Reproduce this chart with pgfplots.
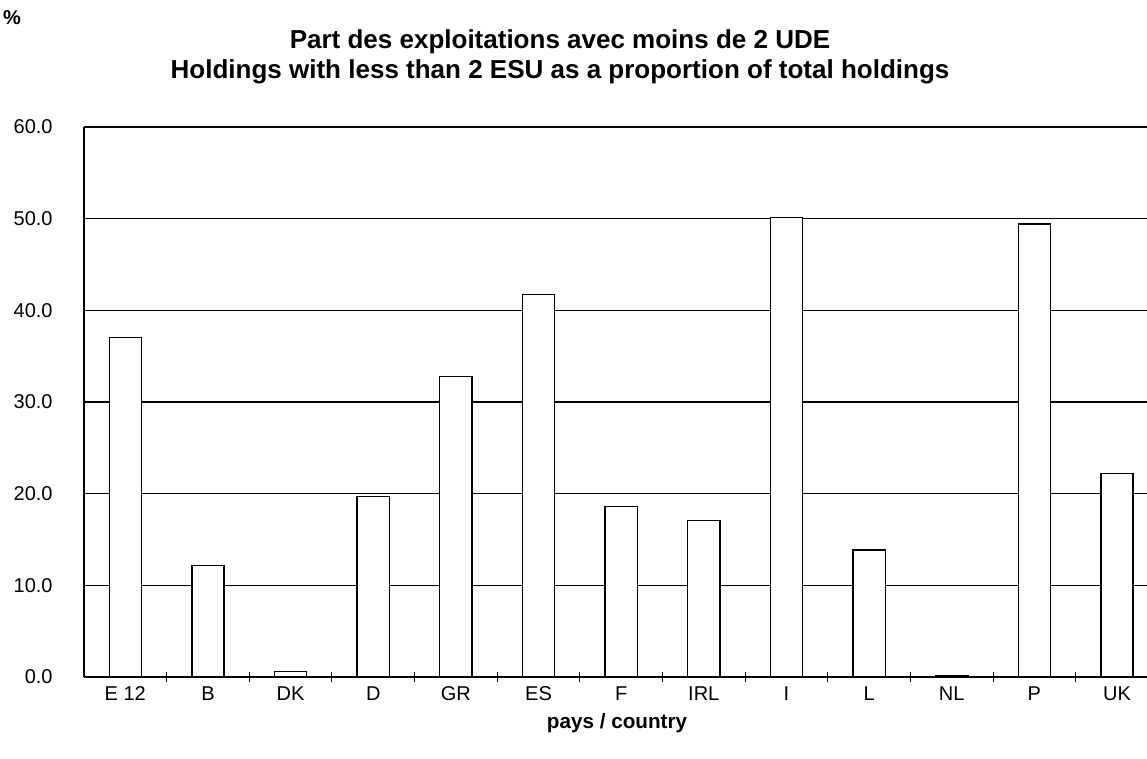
\documentclass[border=0pt]{standalone}
\usepackage{fontspec}
\setmainfont{Liberation Sans}
\usepackage{pgfplots}
\pgfplotsset{compat=1.18}
\begin{document}
\begin{tikzpicture}[x=1pt,y=1pt]
\path[use as bounding box] (-63,-60.75) rectangle (797.25,507.75);
\begin{axis}[
  name=ax, at={(0,0)}, anchor=south west,
  scale only axis, width=797.25pt, height=412.5pt,
  xmin=-0.5, xmax=12.363, ymin=0, ymax=60,
  axis x line=bottom, axis y line=left,
  axis line style={-, line width=0.9pt},
  every outer x axis line/.append style={-},
  every outer y axis line/.append style={-},
  ytick={0,10,...,60},
  ymajorgrids, grid style={black, line width=0.8pt},
  xtick={0,...,12},
  xticklabels={E 12,B,DK,D,GR,ES,F,IRL,I,L,NL,P,UK},
  minor xtick={0.5,1.5,...,11.5},
  tick align=center,
  major tick length=0pt, minor tick length=8pt,
  tick style={black, line width=0.8pt},
  xticklabel style={font=\fontsize{15}{17}\selectfont, text height=11pt, text depth=0pt, yshift=-3pt},
  yticklabel style={font=\fontsize{15}{17}\selectfont, /pgf/number format/.cd, fixed, fixed zerofill, precision=1, assume math mode=true},
  yticklabel shift=20pt,
  clip=false,
]
\addplot[ybar, bar width=0.39, fill=white, draw=black, line width=1pt]
 coordinates {(0,37.0) (1,12.2) (2,0.6) (3,19.7) (4,32.75) (5,41.7) (6,18.6) (7,17.1) (8,50.15) (9,13.85) (10,0.1) (11,49.4) (12,22.2)};
\end{axis}
\node[font=\bfseries\fontsize{15}{17}\selectfont] at (-54,494.25) {\%};
\node[anchor=base, font=\bfseries\fontsize{19.5}{22}\selectfont] at (357,471) {Part des exploitations avec moins de 2 UDE};
\node[anchor=base, font=\bfseries\fontsize{19.5}{22}\selectfont] at (357,448.5) {Holdings with less than 2 ESU as a proportion of total holdings};
\node[font=\bfseries\fontsize{15.5}{17}\selectfont] at (399.75,-34.5) {pays / country};
\end{tikzpicture}
\end{document}
